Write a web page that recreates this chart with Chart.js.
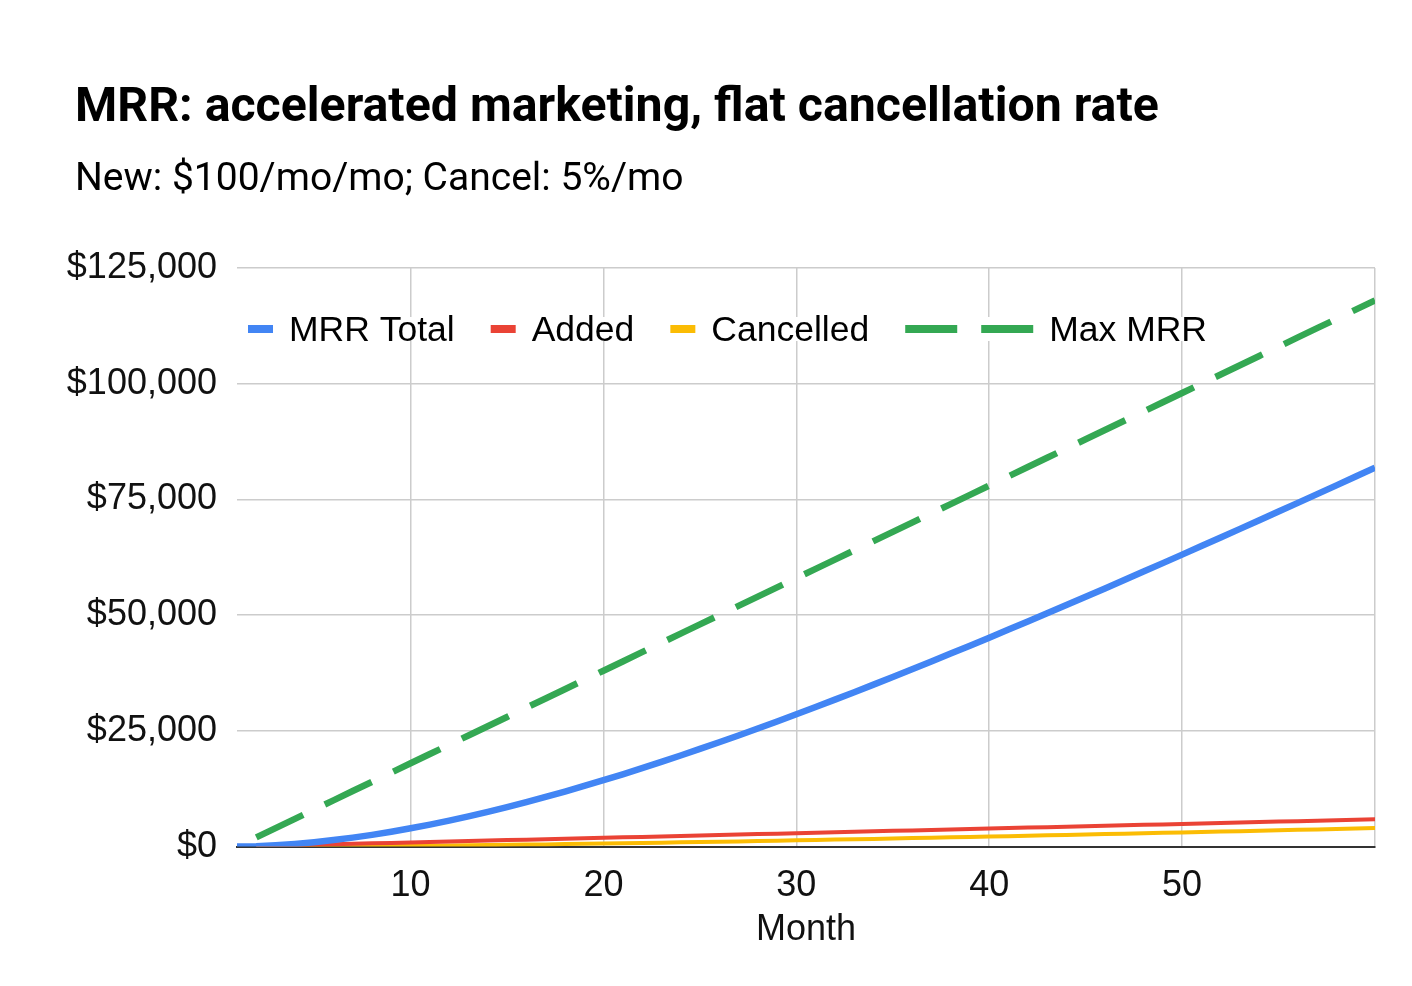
<!DOCTYPE html>
<html>
<head>
<meta charset="utf-8">
<title>MRR: accelerated marketing, flat cancellation rate</title>
<script src="https://cdn.jsdelivr.net/npm/chart.js@4.4.1/dist/chart.umd.min.js"></script>
<style>
  html, body { margin: 0; padding: 0; background: #fff; }
</style>
</head>
<body>
<canvas id="chart" width="1412" height="986"></canvas>
<script>
// Data
const months = [1,2,3,4,5,6,7,8,9,10,11,12,13,14,15,16,17,18,19,20,
  21,22,23,24,25,26,27,28,29,30,31,32,33,34,35,36,37,38,39,40,
  41,42,43,44,45,46,47,48,49,50,51,52,53,54,55,56,57,58,59,60];

const mrrTotal = [0,100,295,580,951,1404,1934,2537,3210,3950,
  4752,5614,6534,7507,8532,9605,10725,11889,13094,14340,
  15623,16941,18294,19680,21096,22541,24014,25513,27037,28586,
  30156,31749,33361,34993,36643,38311,39996,41696,43411,45141,
  46884,48639,50407,52187,53978,55779,57590,59410,61240,63078,
  64924,66778,68639,70507,72382,74263,76149,78042,79940,81843];

const added = [null,100,200,300,400,500,600,700,800,900,
  1000,1100,1200,1300,1400,1500,1600,1700,1800,1900,
  2000,2100,2200,2300,2400,2500,2600,2700,2800,2900,
  3000,3100,3200,3300,3400,3500,3600,3700,3800,3900,
  4000,4100,4200,4300,4400,4500,4600,4700,4800,4900,
  5000,5100,5200,5300,5400,5500,5600,5700,5800,5900];

const cancelled = [null,0,5,15,29,48,70,97,127,161,
  198,238,281,327,375,427,480,536,594,655,
  717,781,847,915,984,1055,1127,1201,1276,1352,
  1429,1508,1587,1668,1750,1832,1916,2000,2085,2171,
  2257,2344,2432,2520,2609,2699,2789,2880,2971,3062,
  3154,3246,3339,3432,3525,3619,3713,3807,3902,3997];

const maxMrr = [null,2000,4000,6000,8000,10000,12000,14000,16000,18000,
  20000,22000,24000,26000,28000,30000,32000,34000,36000,38000,
  40000,42000,44000,46000,48000,50000,52000,54000,56000,58000,
  60000,62000,64000,66000,68000,70000,72000,74000,76000,78000,
  80000,82000,84000,86000,88000,90000,92000,94000,96000,98000,
  100000,102000,104000,106000,108000,110000,112000,114000,116000,118000];

const xTicks = [10, 20, 30, 40, 50, 60];
const yTicks = [0, 25000, 50000, 75000, 100000, 125000];

const textFont = '"Liberation Sans", Arial, sans-serif';
Chart.defaults.font.family = textFont;
Chart.defaults.color = '#111';

// legend drawn inside the plot, like the original
const inlineLegend = {
  id: 'inlineLegend',
  afterLayout(chart) {
    // let the widest y label spill left past the padding without being clipped
    chart.scales.y.left = 0;
  },
  afterDatasetsDraw(chart) {
    const ctx = chart.ctx;
    const area = chart.chartArea;
    let x = area.left + 11;
    const y = area.top + 61;
    ctx.save();
    ctx.font = '35.5px ' + textFont;
    ctx.textBaseline = 'middle';
    chart.data.datasets.forEach(ds => {
      const markW = ds.borderDash ? 128 : 25;
      const textW = ctx.measureText(ds.label).width;
      ctx.fillStyle = '#fff';
      ctx.fillRect(x - 4, y - 12, markW + 16 + textW + 8, 24);
      ctx.strokeStyle = ds.borderColor;
      ctx.lineWidth = 8;
      ctx.setLineDash(ds.borderDash || []);
      ctx.beginPath();
      ctx.moveTo(x, y);
      ctx.lineTo(x + markW, y);
      ctx.stroke();
      ctx.setLineDash([]);
      ctx.fillStyle = '#000';
      ctx.fillText(ds.label, x + markW + 16, y + 2);
      x += markW + 16 + textW + 36;
    });
    ctx.restore();
  }
};

const gridStyle = { color: '#cccccc', lineWidth: 1.5, drawTicks: false };

new Chart(document.getElementById('chart').getContext('2d'), {
  type: 'line',
  data: {
    labels: months,
    datasets: [
      { label: 'MRR Total', data: mrrTotal, borderColor: '#4285f4', borderWidth: 6.5 },
      { label: 'Added', data: added, borderColor: '#ea4335', borderWidth: 4 },
      { label: 'Cancelled', data: cancelled, borderColor: '#fbbc04', borderWidth: 4 },
      { label: 'Max MRR', data: maxMrr, borderColor: '#34a853', borderWidth: 6.5, borderDash: [52, 24] }
    ]
  },
  options: {
    responsive: false,
    animation: false,
    elements: { point: { radius: 0 }, line: { tension: 0, borderCapStyle: 'butt' } },
    layout: { padding: { left: 75, right: 37, top: 0, bottom: 34 } },
    plugins: {
      legend: { display: false },
      tooltip: { enabled: false },
      title: {
        display: true,
        text: 'MRR: accelerated marketing, flat cancellation rate',
        align: 'start',
        color: '#000',
        font: { family: 'Roboto', size: 48.25, weight: 'bold' },
        padding: { top: 80, bottom: 0 }
      },
      subtitle: {
        display: true,
        text: 'New: $100/mo/mo; Cancel: 5%/mo',
        align: 'start',
        color: '#000',
        font: { family: 'Roboto', size: 39, weight: 'normal' },
        padding: { top: 19.3, bottom: 64 }
      }
    },
    scales: {
      x: {
        type: 'linear',
        min: 1,
        max: 60,
        afterBuildTicks: axis => { axis.ticks = xTicks.map(v => ({ value: v })); },
        ticks: {
          autoSkip: false,
          maxRotation: 0,
          padding: 18,
          color: '#111',
          font: { size: 36 },
          callback: v => (v === 60 ? '' : String(v))
        },
        grid: gridStyle,
        border: { display: true, color: '#333', width: 2 },
        title: {
          display: true,
          text: 'Month',
          color: '#111',
          font: { size: 36 },
          padding: { top: -17, bottom: 0 }
        }
      },
      y: {
        min: 0,
        max: 125000,
        afterBuildTicks: axis => { axis.ticks = yTicks.map(v => ({ value: v })); },
        afterFit: axis => { axis.width = 162; },
        ticks: {
          padding: 20,
          color: '#111',
          font: { size: 36 },
          callback: v => '$' + v.toLocaleString('en-US')
        },
        grid: gridStyle,
        border: { display: false }
      }
    }
  },
  plugins: [inlineLegend]
});
</script>
</body>
</html>
